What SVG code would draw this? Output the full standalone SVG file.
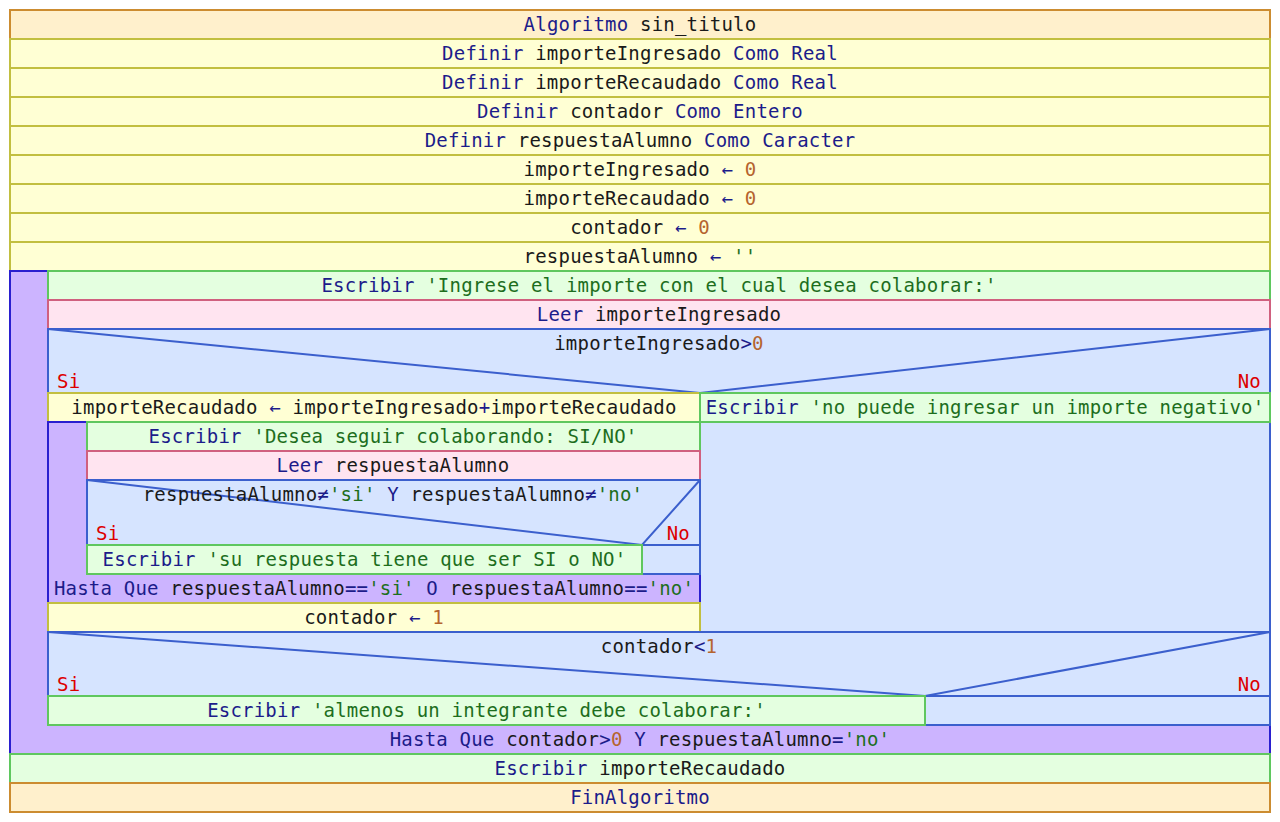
<svg xmlns="http://www.w3.org/2000/svg" width="1280" height="822" viewBox="0 0 1280 822">
<style>
text{font-family:"DejaVu Sans Mono","Liberation Mono",monospace;font-size:19px;letter-spacing:0.2px;fill:#1a1a1a}
.c{text-anchor:middle}
.k{fill:#1c1c8a}
.s{fill:#1d6e1d}
.n{fill:#b5642e}
.o{fill:#1c1c8a}
.r{fill:#dd0000}
.e{text-anchor:end}
.alg{fill:#fff0cc;stroke:#cc8c30;stroke-width:2}
.asg{fill:#ffffd4;stroke:#c2bf40;stroke-width:2}
.esc{fill:#e4ffe0;stroke:#5fc75f;stroke-width:2}
.lee{fill:#ffe4f0;stroke:#d0607f;stroke-width:2}
.sif{fill:#d6e4ff;stroke:#3b5fcd;stroke-width:2}
.rep{fill:#ccb4ff;stroke:#2a1fcf;stroke-width:2}
.dl{fill:none;stroke:#3b5fcd;stroke-width:2}
</style>
<rect width="1280" height="822" fill="#ffffff"/>

<g id="alg"><rect class="alg" x="10" y="10" width="1260" height="29"/><text class="c" x="640" y="31"><tspan class="k">Algoritmo </tspan><tspan>sin_titulo</tspan></text></g>
<g id="def1"><rect class="asg" x="10" y="39" width="1260" height="29"/><text class="c" x="640" y="60"><tspan class="k">Definir </tspan><tspan>importeIngresado </tspan><tspan class="k">Como Real</tspan></text></g>
<g id="def2"><rect class="asg" x="10" y="68" width="1260" height="29"/><text class="c" x="640" y="89"><tspan class="k">Definir </tspan><tspan>importeRecaudado </tspan><tspan class="k">Como Real</tspan></text></g>
<g id="def3"><rect class="asg" x="10" y="97" width="1260" height="29"/><text class="c" x="640" y="118"><tspan class="k">Definir </tspan><tspan>contador </tspan><tspan class="k">Como Entero</tspan></text></g>
<g id="def4"><rect class="asg" x="10" y="126" width="1260" height="29"/><text class="c" x="640" y="147"><tspan class="k">Definir </tspan><tspan>respuestaAlumno </tspan><tspan class="k">Como Caracter</tspan></text></g>
<g id="asg1"><rect class="asg" x="10" y="155" width="1260" height="29"/><text class="c" x="640" y="176"><tspan>importeIngresado </tspan><tspan class="o">← </tspan><tspan class="n">0</tspan></text></g>
<g id="asg2"><rect class="asg" x="10" y="184" width="1260" height="29"/><text class="c" x="640" y="205"><tspan>importeRecaudado </tspan><tspan class="o">← </tspan><tspan class="n">0</tspan></text></g>
<g id="asg3"><rect class="asg" x="10" y="213" width="1260" height="29"/><text class="c" x="640" y="234"><tspan>contador </tspan><tspan class="o">← </tspan><tspan class="n">0</tspan></text></g>
<g id="asg4"><rect class="asg" x="10" y="242" width="1260" height="29"/><text class="c" x="640" y="263"><tspan>respuestaAlumno </tspan><tspan class="o">← </tspan><tspan class="s">''</tspan></text></g>

<g id="rep1"><rect class="rep" x="10" y="271" width="1260" height="483"/><text class="c" x="640" y="746"><tspan class="k">Hasta Que </tspan><tspan>contador</tspan><tspan class="o">&gt;</tspan><tspan class="n">0</tspan><tspan class="k"> Y </tspan><tspan>respuestaAlumno</tspan><tspan class="o">=</tspan><tspan class="s">'no'</tspan></text></g>
<g id="esc1"><rect class="esc" x="48" y="271" width="1222" height="29"/><text class="c" x="659" y="292"><tspan class="k">Escribir </tspan><tspan class="s">'Ingrese el importe con el cual desea colaborar:'</tspan></text></g>
<g id="lee1"><rect class="lee" x="48" y="300" width="1222" height="29"/><text class="c" x="659" y="321"><tspan class="k">Leer </tspan><tspan>importeIngresado</tspan></text></g>

<g id="if1"><rect class="sif" x="48" y="329" width="1222" height="303"/><line class="dl" x1="48" y1="393" x2="1270" y2="393"/><polyline class="dl" points="48,329 700,393 1270,329"/><text class="c" x="659" y="350"><tspan>importeIngresado</tspan><tspan class="o">&gt;</tspan><tspan class="n">0</tspan></text><text class="r" x="57" y="388">Si</text><text class="r e" x="1261" y="388">No</text></g>
<g id="asg5"><rect class="asg" x="48" y="393" width="652" height="29"/><text class="c" x="374" y="414"><tspan>importeRecaudado </tspan><tspan class="o">← </tspan><tspan>importeIngresado</tspan><tspan class="o">+</tspan><tspan>importeRecaudado</tspan></text></g>
<g id="esc2"><rect class="esc" x="700" y="393" width="570" height="29"/><text class="c" x="985" y="414"><tspan class="k">Escribir </tspan><tspan class="s">'no puede ingresar un importe negativo'</tspan></text></g>

<g id="rep2"><rect class="rep" x="48" y="422" width="652" height="181"/><text class="c" x="374" y="595"><tspan class="k">Hasta Que </tspan><tspan>respuestaAlumno</tspan><tspan class="o">==</tspan><tspan class="s">'si'</tspan><tspan class="k"> O </tspan><tspan>respuestaAlumno</tspan><tspan class="o">==</tspan><tspan class="s">'no'</tspan></text></g>
<g id="esc3"><rect class="esc" x="87" y="422" width="613" height="29"/><text class="c" x="393" y="443"><tspan class="k">Escribir </tspan><tspan class="s">'Desea seguir colaborando: SI/NO'</tspan></text></g>
<g id="lee2"><rect class="lee" x="87" y="451" width="613" height="29"/><text class="c" x="393" y="472"><tspan class="k">Leer </tspan><tspan>respuestaAlumno</tspan></text></g>
<g id="if2"><rect class="sif" x="87" y="480" width="613" height="94"/><line class="dl" x1="87" y1="545" x2="700" y2="545"/><polyline class="dl" points="87,480 642,545 700,480"/><text class="c" x="393" y="501"><tspan>respuestaAlumno</tspan><tspan class="o">≠</tspan><tspan class="s">'si'</tspan><tspan class="k"> Y </tspan><tspan>respuestaAlumno</tspan><tspan class="o">≠</tspan><tspan class="s">'no'</tspan></text><text class="r" x="96" y="540">Si</text><text class="r e" x="690" y="540">No</text></g>
<g id="esc4"><rect class="esc" x="87" y="545" width="555" height="29"/><text class="c" x="364.5" y="566"><tspan class="k">Escribir </tspan><tspan class="s">'su respuesta tiene que ser SI o NO'</tspan></text></g>

<g id="asg6"><rect class="asg" x="48" y="603" width="652" height="29"/><text class="c" x="374" y="624"><tspan>contador </tspan><tspan class="o">← </tspan><tspan class="n">1</tspan></text></g>

<g id="if3"><rect class="sif" x="48" y="632" width="1222" height="93"/><line class="dl" x1="48" y1="696" x2="1270" y2="696"/><polyline class="dl" points="48,632 925,696 1270,632"/><text class="c" x="659" y="653"><tspan>contador</tspan><tspan class="o">&lt;</tspan><tspan class="n">1</tspan></text><text class="r" x="57" y="691">Si</text><text class="r e" x="1261" y="691">No</text></g>
<g id="esc5"><rect class="esc" x="48" y="696" width="877" height="29"/><text class="c" x="486.5" y="717"><tspan class="k">Escribir </tspan><tspan class="s">'almenos un integrante debe colaborar:'</tspan></text></g>

<g id="esc6"><rect class="esc" x="10" y="754" width="1260" height="29"/><text class="c" x="640" y="775"><tspan class="k">Escribir </tspan><tspan>importeRecaudado</tspan></text></g>
<g id="fin"><rect class="alg" x="10" y="783" width="1260" height="29"/><text class="c" x="640" y="804"><tspan class="k">FinAlgoritmo</tspan></text></g>
<g id="connectors"></g>
</svg>
